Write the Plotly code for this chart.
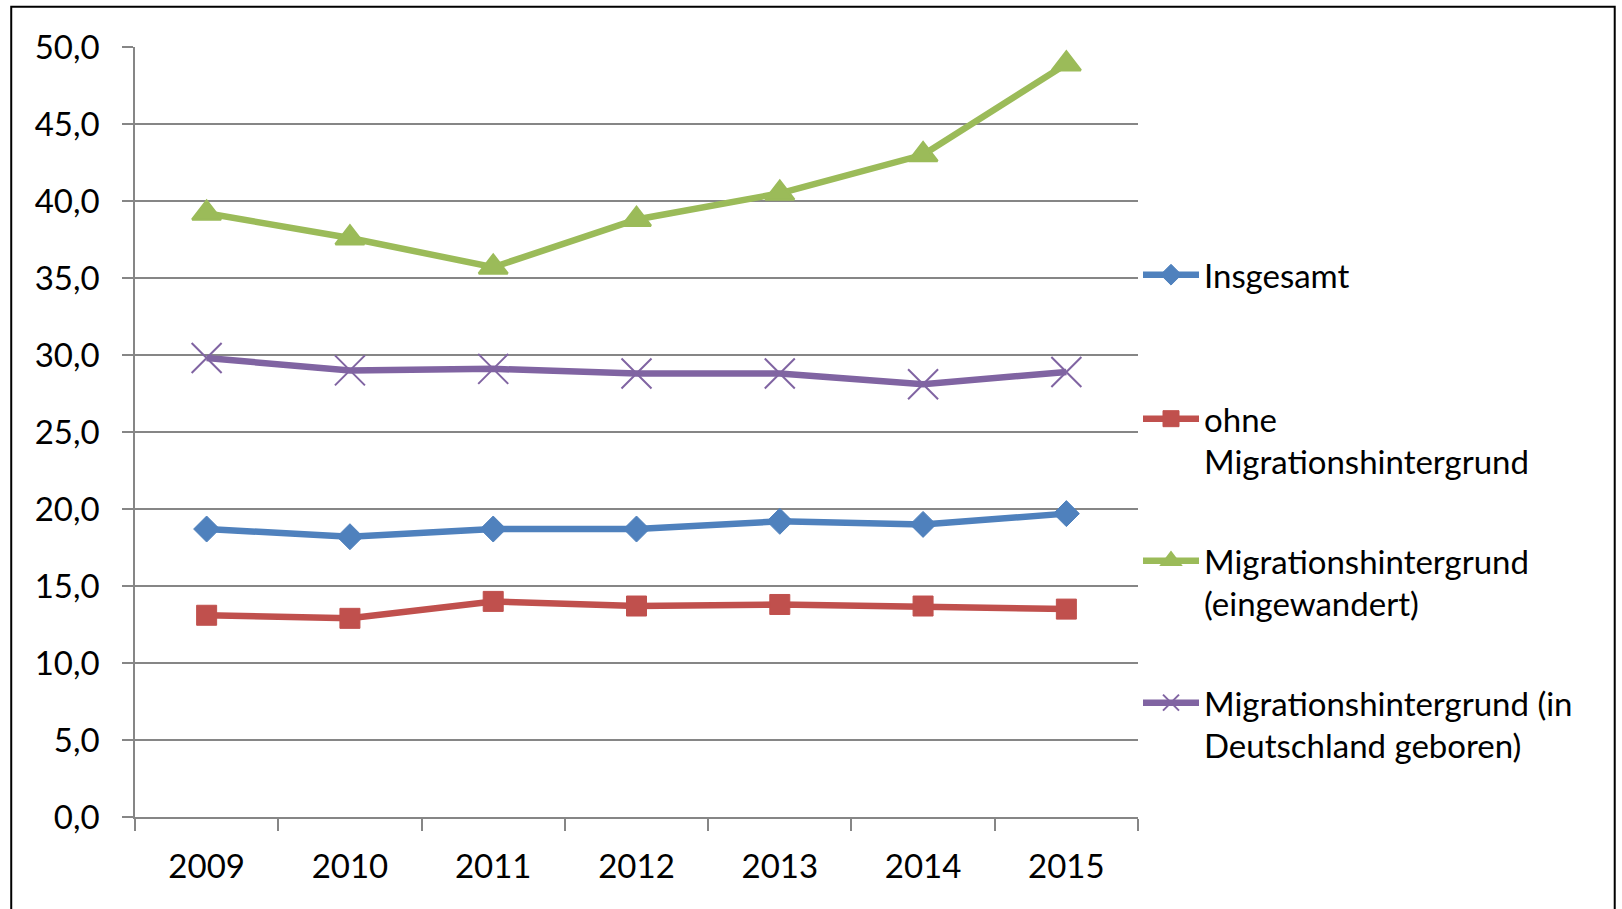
import plotly.graph_objects as go

years = ["2009", "2010", "2011", "2012", "2013", "2014", "2015"]

insgesamt = [18.7, 18.2, 18.7, 18.7, 19.2, 19.0, 19.7]
ohne_mig = [13.1, 12.9, 14.0, 13.7, 13.8, 13.7, 13.5]
mig_eingewandert = [39.2, 37.6, 35.7, 38.8, 40.5, 43.0, 48.9]
mig_geboren = [29.8, 29.0, 29.1, 28.8, 28.8, 28.1, 28.9]

y_ticks = [0, 5, 10, 15, 20, 25, 30, 35, 40, 45, 50]
y_tick_labels = [f"{v:.1f}".replace(".", ",") for v in y_ticks]

FONT = "Lato"
FONT_SIZE = 33
GRID = "#868686"

series = [
    ("Insgesamt", insgesamt, "#4F81BD", dict(symbol="diamond", size=20), "legend"),
    ("ohne<br>Migrationshintergrund", ohne_mig, "#C0504D", dict(symbol="square", size=20), "legend2"),
    ("Migrationshintergrund<br>(eingewandert)", mig_eingewandert, "#9BBB59",
     dict(symbol="triangle-up", size=25), "legend3"),
    ("Migrationshintergrund (in<br>Deutschland geboren)", mig_geboren, "#8064A2",
     dict(symbol="x-thin", size=30), "legend4"),
]

fig = go.Figure()
for name, values, color, marker, legend in series:
    mk = dict(color=color, **marker)
    if marker["symbol"] == "x-thin":
        mk["line"] = dict(color=color, width=2)
    elif marker["symbol"] == "triangle-up":
        mk["line"] = dict(color=color, width=2.5)
    else:
        mk["line"] = dict(color=color, width=1)
    fig.add_trace(go.Scatter(
        x=years,
        y=values,
        mode="lines+markers",
        name=name,
        line=dict(color=color, width=6.5),
        marker=mk,
        legend=legend,
    ))

legend_common = dict(
    x=1.0,
    xanchor="left",
    yanchor="top",
    valign="top",
    bgcolor="rgba(0,0,0,0)",
    font=dict(family=FONT, size=FONT_SIZE, color="black"),
    itemwidth=56,
)

fig.update_layout(
    width=1622,
    height=909,
    margin=dict(l=134.5, r=484, t=47.3, b=91.7),
    plot_bgcolor="white",
    paper_bgcolor="white",
    font=dict(family=FONT, size=FONT_SIZE, color="black"),
    showlegend=True,
    legend=dict(y=0.7056 + 0.035, **legend_common),
    legend2=dict(y=0.5186 + 0.035, **legend_common),
    legend3=dict(y=0.3342 + 0.035, **legend_common),
    legend4=dict(y=0.1498 + 0.035, **legend_common),
    xaxis=dict(
        type="category",
        range=[-0.5, len(years) - 0.5],
        showgrid=False,
        showline=True,
        linecolor=GRID,
        linewidth=1.5,
        ticks="outside",
        ticklen=12,
        tickcolor=GRID,
        tickwidth=1.5,
        tickson="boundaries",
        ticklabelstandoff=20,
        tickfont=dict(family=FONT, size=FONT_SIZE, color="black"),
        fixedrange=True,
    ),
    yaxis=dict(
        range=[0, 50],
        tickvals=y_ticks,
        ticktext=y_tick_labels,
        showgrid=True,
        gridcolor=GRID,
        gridwidth=1.5,
        zeroline=False,
        showline=True,
        linecolor=GRID,
        linewidth=1.5,
        ticks="outside",
        ticklen=11,
        tickcolor=GRID,
        tickwidth=1.5,
        ticklabelstandoff=16,
        tickfont=dict(family=FONT, size=FONT_SIZE, color="black"),
        fixedrange=True,
    ),
    shapes=[dict(
        type="rect", xref="paper", yref="paper",
        x0=-0.1234, x1=1.4753, y0=-0.2, y1=1.0523,
        line=dict(color="black", width=2),
        fillcolor="rgba(0,0,0,0)",
        layer="below",
    )],
)

# drop the browser's default body margin so the figure fills the window
fig.write_html(
    "out.html",
    config={"displayModeBar": False},
    post_script="document.body.style.margin='0';",
)
